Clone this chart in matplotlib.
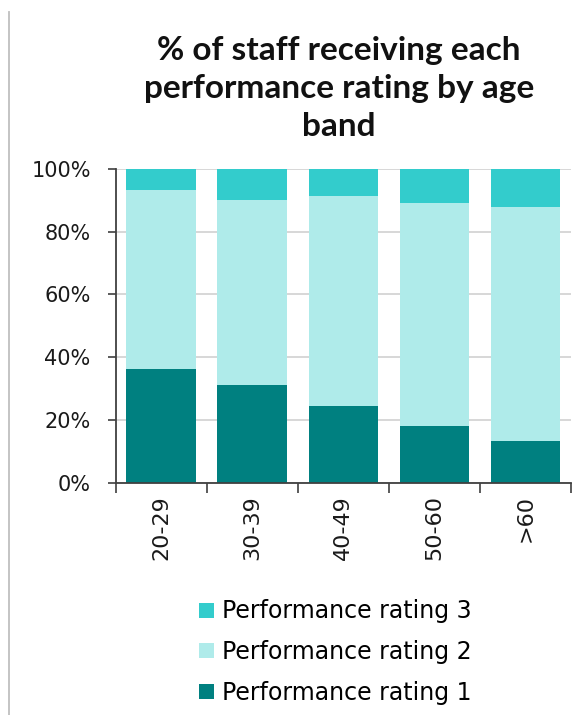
import matplotlib
matplotlib.use("Agg")
import matplotlib.pyplot as plt
from matplotlib.lines import Line2D
import numpy as np

# Age bands and share of staff (%) receiving each performance rating
age_bands = ["20-29", "30-39", "40-49", "50-60", ">60"]
rating_1 = [36.4, 31.2, 24.6, 18.1, 13.2]
rating_2 = [56.8, 58.8, 66.7, 71.1, 74.8]
rating_3 = [6.8, 10.0, 8.7, 10.8, 12.0]
series_labels = ["Performance rating 1", "Performance rating 2", "Performance rating 3"]
series_colors = ["#008080", "#AFEBEA", "#33CCCC"]
y_ticks = [0, 20, 40, 60, 80, 100]
title = "% of staff receiving each\nperformance rating by age\nband"

plt.rcParams["font.family"] = ["DejaVu Sans"]

W, H = 588, 715
fig = plt.figure(figsize=(W / 100, H / 100), dpi=100)
ax = fig.add_axes([115.7 / W, 1 - 482.7 / H, (571 - 115.7) / W, (482.7 - 169) / H])

x = np.arange(len(age_bands))
series = [rating_1, rating_2, rating_3]
bottom = np.zeros(len(age_bands))
bars = []
for vals, lab, col in zip(series, series_labels, series_colors):
    b = ax.bar(x, vals, bottom=bottom, width=0.765, color=col, label=lab, zorder=3)
    bars.append(b)
    bottom += np.array(vals)

ax.set_xlim(-0.5, len(age_bands) - 0.5)
ax.set_ylim(0, 100)
ax.set_yticks(y_ticks)
ax.set_yticklabels([f"{t}%" for t in y_ticks], fontsize=15, color="#1a1a1a")
ax.yaxis.grid(True, color="#D4D4D4", linewidth=1.3, zorder=0)
ax.tick_params(axis="y", length=6, width=1.2, color="#404040", pad=12)

ax.set_xticks(x)
ax.set_xticklabels(age_bands, rotation=90, fontsize=16, color="#1a1a1a")
ax.set_xticks(np.arange(-0.5, len(age_bands)), minor=True)
ax.tick_params(axis="x", which="major", length=0, pad=9)
ax.tick_params(axis="x", which="minor", length=7, width=1.2, color="#404040")

for side in ("top", "right"):
    ax.spines[side].set_visible(False)
for side in ("left", "bottom"):
    ax.spines[side].set_color("#404040")
    ax.spines[side].set_linewidth(1.3)
    ax.spines[side].set_zorder(4)

fig.text(339 / W, 1 - 36 / H, title, ha="center", va="top", fontsize=24,
         fontweight="bold", family="Lato", linespacing=1.38, color="#111111")

fig.legend([bars[2], bars[1], bars[0]],
           [series_labels[2], series_labels[1], series_labels[0]],
           loc="center left", bbox_to_anchor=(199 / W, 1 - 652 / H),
           frameon=False, fontsize=17, handlelength=0.62, handleheight=0.62,
           handletextpad=0.35, labelspacing=0.7, borderpad=0, borderaxespad=0)

fig.add_artist(Line2D([9 / W, 9 / W], [0, 1 - 12 / H], transform=fig.transFigure,
                      color="#BFBFBF", linewidth=1.3))

fig.savefig("out.png", dpi=100)
